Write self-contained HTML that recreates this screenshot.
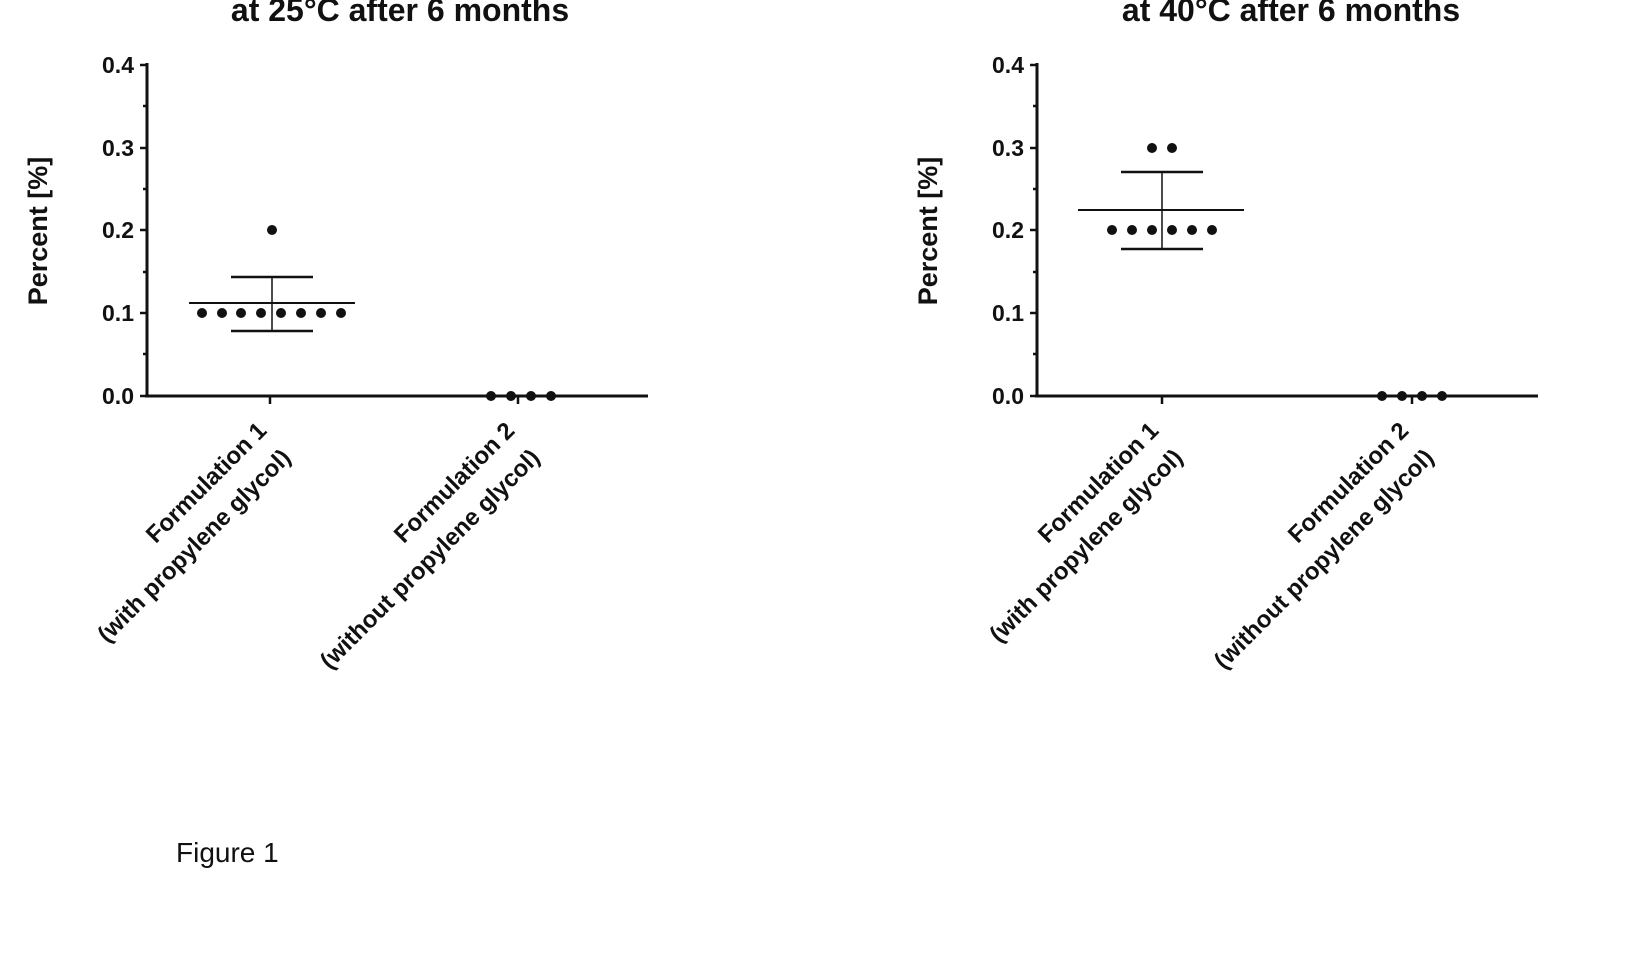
<!DOCTYPE html>
<html><head><meta charset="utf-8"><style>
html,body{margin:0;padding:0;background:#fff;}
svg{display:block;}
text{font-family:"Liberation Sans",Arial,sans-serif;fill:#111;}
</style></head><body>
<svg width="1638" height="966" viewBox="0 0 1638 966" xmlns="http://www.w3.org/2000/svg">
<g font-weight="bold">
<text x="400" y="21" font-size="32" text-anchor="middle">at 25°C after 6 months</text>
<text x="1291" y="21" font-size="32" text-anchor="middle">at 40°C after 6 months</text>
</g>

<!-- Left chart -->
<g stroke="#111" fill="none">
<line x1="147" y1="63" x2="147" y2="397" stroke-width="3"/>
<line x1="145" y1="396" x2="648" y2="396" stroke-width="3"/>
<g stroke-width="2.5">
<line x1="140" y1="65" x2="147" y2="65"/><line x1="140" y1="148" x2="147" y2="148"/><line x1="140" y1="230" x2="147" y2="230"/><line x1="140" y1="313" x2="147" y2="313"/><line x1="140" y1="396" x2="147" y2="396"/>
<line x1="143" y1="106" x2="147" y2="106"/><line x1="143" y1="189" x2="147" y2="189"/><line x1="143" y1="272" x2="147" y2="272"/><line x1="143" y1="354" x2="147" y2="354"/>
<line x1="270" y1="396" x2="270" y2="404"/><line x1="518" y1="396" x2="518" y2="404"/>
</g>
<line x1="189" y1="303" x2="355" y2="303" stroke-width="2"/>
<line x1="231" y1="277" x2="313" y2="277" stroke-width="2.5"/>
<line x1="231" y1="331" x2="313" y2="331" stroke-width="2.5"/>
<line x1="272" y1="277" x2="272" y2="331" stroke-width="1.5"/>
</g>
<g fill="#111">
<circle cx="272" cy="230" r="5"/>
<circle cx="202" cy="313" r="5"/><circle cx="222" cy="313" r="5"/><circle cx="241" cy="313" r="5"/><circle cx="261" cy="313" r="5"/><circle cx="281" cy="313" r="5"/><circle cx="301" cy="313" r="5"/><circle cx="321" cy="313" r="5"/><circle cx="341" cy="313" r="5"/>
<circle cx="491" cy="396" r="5"/><circle cx="511" cy="396" r="5"/><circle cx="531" cy="396" r="5"/><circle cx="551" cy="396" r="5"/>
</g>
<g font-size="23" font-weight="bold" text-anchor="end">
<text x="134" y="73">0.4</text><text x="134" y="156">0.3</text><text x="134" y="238">0.2</text><text x="134" y="321">0.1</text><text x="134" y="404">0.0</text>
</g>
<text transform="translate(47,231) rotate(-90)" font-size="27" font-weight="bold" text-anchor="middle">Percent [%]</text>
<g font-size="24" font-weight="bold" text-anchor="end">
<text transform="translate(268,432) rotate(-45)">Formulation 1</text>
<text transform="translate(292,459) rotate(-45)">(with propylene glycol)</text>
<text transform="translate(516,432) rotate(-45)">Formulation 2</text>
<text transform="translate(541,459) rotate(-45)">(without propylene glycol)</text>
</g>

<!-- Right chart -->
<g stroke="#111" fill="none">
<line x1="1037" y1="63" x2="1037" y2="397" stroke-width="3"/>
<line x1="1035" y1="396" x2="1538" y2="396" stroke-width="3"/>
<g stroke-width="2.5">
<line x1="1030" y1="65" x2="1037" y2="65"/><line x1="1030" y1="148" x2="1037" y2="148"/><line x1="1030" y1="230" x2="1037" y2="230"/><line x1="1030" y1="313" x2="1037" y2="313"/><line x1="1030" y1="396" x2="1037" y2="396"/>
<line x1="1033" y1="106" x2="1037" y2="106"/><line x1="1033" y1="189" x2="1037" y2="189"/><line x1="1033" y1="272" x2="1037" y2="272"/><line x1="1033" y1="354" x2="1037" y2="354"/>
<line x1="1162" y1="396" x2="1162" y2="404"/><line x1="1412" y1="396" x2="1412" y2="404"/>
</g>
<line x1="1078" y1="210" x2="1244" y2="210" stroke-width="2"/>
<line x1="1121" y1="172" x2="1203" y2="172" stroke-width="2.5"/>
<line x1="1121" y1="249" x2="1203" y2="249" stroke-width="2.5"/>
<line x1="1162" y1="172" x2="1162" y2="249" stroke-width="1.5"/>
</g>
<g fill="#111">
<circle cx="1152" cy="148" r="5"/><circle cx="1172" cy="148" r="5"/>
<circle cx="1112" cy="230" r="5"/><circle cx="1132" cy="230" r="5"/><circle cx="1152" cy="230" r="5"/><circle cx="1172" cy="230" r="5"/><circle cx="1192" cy="230" r="5"/><circle cx="1212" cy="230" r="5"/>
<circle cx="1382" cy="396" r="5"/><circle cx="1402" cy="396" r="5"/><circle cx="1422" cy="396" r="5"/><circle cx="1442" cy="396" r="5"/>
</g>
<g font-size="23" font-weight="bold" text-anchor="end">
<text x="1024" y="73">0.4</text><text x="1024" y="156">0.3</text><text x="1024" y="238">0.2</text><text x="1024" y="321">0.1</text><text x="1024" y="404">0.0</text>
</g>
<text transform="translate(937,231) rotate(-90)" font-size="27" font-weight="bold" text-anchor="middle">Percent [%]</text>
<g font-size="24" font-weight="bold" text-anchor="end">
<text transform="translate(1160,432) rotate(-45)">Formulation 1</text>
<text transform="translate(1184,459) rotate(-45)">(with propylene glycol)</text>
<text transform="translate(1410,432) rotate(-45)">Formulation 2</text>
<text transform="translate(1435,459) rotate(-45)">(without propylene glycol)</text>
</g>

<text x="176" y="862" font-size="28">Figure 1</text>
</svg>
</body></html>
